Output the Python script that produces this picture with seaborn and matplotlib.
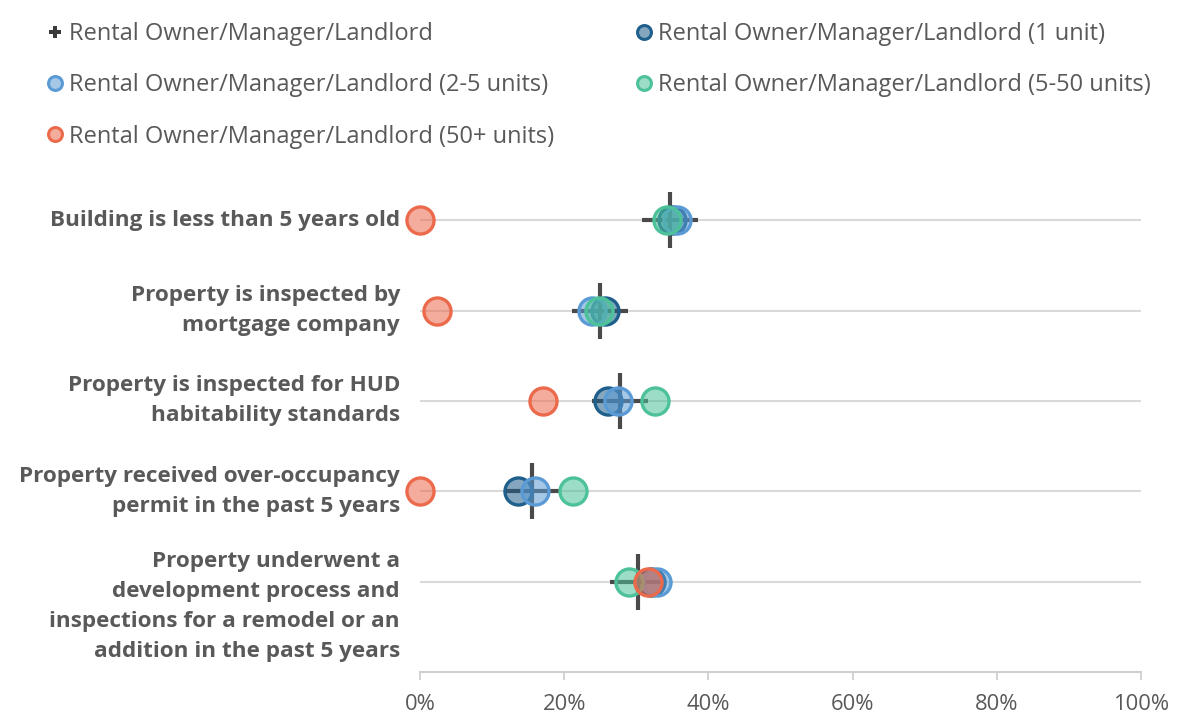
import matplotlib
matplotlib.use("Agg")
import matplotlib.pyplot as plt
import seaborn as sns
import pandas as pd
from matplotlib.lines import Line2D
from matplotlib.colors import to_rgba

categories = [
    "Building is less than 5 years old",
    "Property is inspected by\nmortgage company",
    "Property is inspected for HUD\nhabitability standards",
    "Property received over-occupancy\npermit in the past 5 years",
    "Property underwent a\ndevelopment process and\ninspections for a remodel or an\naddition in the past 5 years",
]
all_landlords = [34.7, 25.0, 27.7, 15.6, 30.2]
units_1 = [35.0, 25.7, 26.1, 13.6, 32.0]
units_2_5 = [35.6, 23.8, 27.4, 16.0, 32.9]
units_5_50 = [34.3, 24.8, 32.6, 21.2, 29.0]
units_50p = [0.0, 2.4, 17.0, 0.0, 31.6]

series_names = [
    "Rental Owner/Manager/Landlord (1 unit)",
    "Rental Owner/Manager/Landlord (2-5 units)",
    "Rental Owner/Manager/Landlord (5-50 units)",
    "Rental Owner/Manager/Landlord (50+ units)",
]
series_vals = [units_1, units_2_5, units_5_50, units_50p]
colors = ["#1f5f8b", "#5b9bd5", "#4cc19a", "#ec6a4c"]
total_name = "Rental Owner/Manager/Landlord"

sns.set_theme(style="white")
plt.rcParams["font.family"] = ["Open Sans", "DejaVu Sans"]
txt = "#595959"

fig = plt.figure(figsize=(11.82, 7.15), dpi=100)
ax = fig.add_axes([420 / 1182, 1 - 672 / 715, (1141 - 420) / 1182, (672 - 175) / 715])

ypos = list(range(len(categories)))
for y in ypos:
    ax.axhline(y, color="#d9d9d9", lw=1.5, zorder=0)

df_tot = pd.DataFrame({"cat": ypos, "val": all_landlords})
sns.scatterplot(data=df_tot, x="val", y="cat", ax=ax, marker="+", s=1600,
                color="#4a4a4a", linewidth=3, zorder=2, legend=False, clip_on=False)

for name, vals, c in zip(series_names, series_vals, colors):
    d = pd.DataFrame({"cat": ypos, "val": vals})
    face = to_rgba(c, 0.55)
    sns.scatterplot(data=d, x="val", y="cat", ax=ax, s=380, color=face,
                    edgecolor=c, linewidth=2.4, zorder=3, legend=False, clip_on=False)

ax.set_xlim(0, 100)
ax.set_ylim(5, -0.5)
ax.set_yticks(ypos)
lab_kw = dict(fontsize=16.2, fontweight="bold", color=txt, linespacing=1.57)
ax.set_yticklabels(categories[:-1] + [""], va="center", **lab_kw)
# the long last label sits lower than its row in the original
ax.annotate(categories[-1], xy=(0, ypos[-1]), xycoords=("axes fraction", "data"),
            xytext=(-14.4, -18), textcoords="offset points", ha="right", va="center",
            annotation_clip=False, **lab_kw)
ax.set_xticks([0, 20, 40, 60, 80, 100])
ax.set_xticklabels(["0%", "20%", "40%", "60%", "80%", "100%"], fontsize=15.8, color=txt)
ax.tick_params(axis="y", length=0, pad=14.4)
ax.tick_params(axis="x", length=6, width=1.3, color="#d0d0d0", pad=10, direction="out",
               bottom=True)
ax.set_xlabel("")
ax.set_ylabel("")
for s in ["top", "right", "left"]:
    ax.spines[s].set_visible(False)
ax.spines["bottom"].set_color("#d0d0d0")
ax.spines["bottom"].set_linewidth(1.5)
ax.set_facecolor("none")

def circ(c):
    return Line2D([], [], marker="o", ls="", markerfacecolor=to_rgba(c, 0.55),
                  markeredgecolor=c, markeredgewidth=2.2, markersize=10)

plus = Line2D([], [], marker="P", ls="", color="#3a3a3a", markersize=8, markeredgewidth=0)
handles = [plus, circ(colors[1]), circ(colors[3]), circ(colors[0]), circ(colors[2])]
labels = [total_name, series_names[1], series_names[3], series_names[0], series_names[2]]
fig.legend(handles, labels, loc="upper left", bbox_to_anchor=(22 / 1182, 1 - 1 / 715),
           ncol=2, frameon=False, fontsize=17, labelcolor=txt, handletextpad=0.1,
           columnspacing=3.3, labelspacing=1.15, handlelength=1.0)

fig.savefig("out.png", dpi=100)
